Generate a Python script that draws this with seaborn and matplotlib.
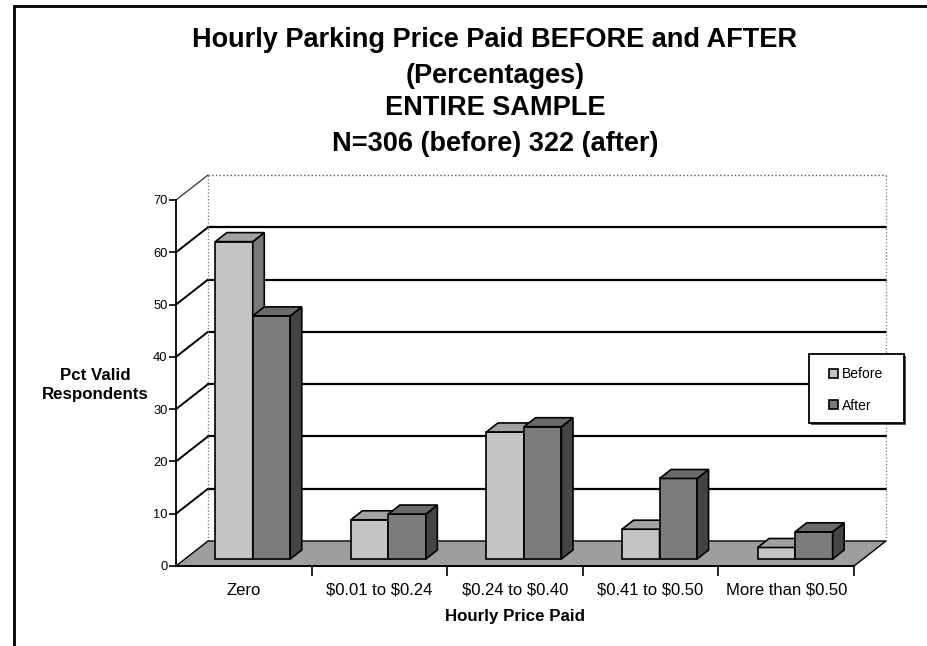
import pandas as pd
import matplotlib
matplotlib.use("Agg")
import matplotlib.pyplot as plt
from matplotlib.patches import Polygon, Rectangle
from matplotlib.lines import Line2D
from matplotlib.transforms import Affine2D
import seaborn as sns

# data
categories = ["Zero", "$0.01 to $0.24", "$0.24 to $0.40", "$0.41 to $0.50", "More than $0.50"]
periods = ["Before", "After"]
before_pct = [60.7, 7.5, 24.3, 5.7, 2.2]
after_pct = [46.5, 8.6, 25.3, 15.4, 5.2]
y_ticks = [0, 10, 20, 30, 40, 50, 60, 70]
title_lines = ["Hourly Parking Price Paid BEFORE and AFTER", "(Percentages)",
               "ENTIRE SAMPLE", "N=306 (before) 322 (after)"]

df = pd.DataFrame({
    "category": categories * 2,
    "period": ["Before"] * len(categories) + ["After"] * len(categories),
    "pct": before_pct + after_pct,
})

sns.set_style("ticks")
plt.rcParams["font.family"] = ["Liberation Sans", "DejaVu Sans"]
plt.rcParams["text.color"] = "black"
plt.rcParams["xtick.color"] = "black"
plt.rcParams["ytick.color"] = "black"
plt.rcParams["xtick.labelcolor"] = "black"
plt.rcParams["ytick.labelcolor"] = "black"

W, H = 928, 646
fig = plt.figure(figsize=(W / 100, H / 100), dpi=100)
# front plane of the fake 3D box, in pixels
px_l, px_r, px_b, px_t = 176, 854, 566, 200
ax = fig.add_axes([px_l / W, 1 - px_b / H, (px_r - px_l) / W, (px_b - px_t) / H])

front = {"Before": "#c4c4c4", "After": "#7c7c7c"}
tops = {"Before": "#a2a2a2", "After": "#6a6a6a"}
sides = {"Before": "#787878", "After": "#444444"}

sns.barplot(data=df, x="category", y="pct", hue="period", hue_order=periods,
            palette=front, width=0.553, edgecolor="black", linewidth=1.2,
            saturation=1, ax=ax)

ax.set_xlim(-0.5, 4.5)
ax.set_ylim(0, 70)
ax.autoscale(False)

# depth of the box in data units
DX = 32 / ((px_r - px_l) / 5)
DY = 25 / ((px_b - px_t) / 70)
z0, z1 = 0.28, 0.64

# floor
floor = Polygon([(-0.5, 0), (4.5, 0), (4.5 + DX, DY), (-0.5 + DX, DY)],
                closed=True, facecolor="#9e9e9e", edgecolor="black", lw=1.0,
                zorder=1, clip_on=False)
ax.add_patch(floor)

# back wall and left side wall grid
for v in y_ticks[1:]:
    c = "#555555" if v == 70 else "black"
    lw = 1.0 if v == 70 else 1.6
    ls = ":" if v == 70 else "-"
    ax.plot([-0.5 + DX, 4.5 + DX], [v + DY, v + DY], color=c, lw=lw, ls=ls,
            zorder=0.5, clip_on=False)
    ax.plot([-0.5, -0.5 + DX], [v, v + DY], color="black" if v < 70 else "#444444",
            lw=1.4 if v < 70 else 1.0, zorder=0.5, clip_on=False)
for xe in [-0.5 + DX, 4.5 + DX]:
    ax.plot([xe, xe], [DY, 70 + DY], color="#777777", lw=0.9, ls=":",
            zorder=0.6, clip_on=False)

# turn flat bars into blocks
ox, oy = z0 * DX, z0 * DY
bdx, bdy = (z1 - z0) * DX, (z1 - z0) * DY
for j, cont in enumerate(ax.containers):
    p = periods[j]
    for bar in cont:
        x, w, h = bar.get_x(), bar.get_width(), bar.get_height()
        zo = 10 + j
        bar.set_transform(Affine2D().translate(ox, oy) + ax.transData)
        bar.set_zorder(zo)
        bar.set_clip_on(False)
        xl, xr, yb, yt = x + ox, x + w + ox, oy, h + oy
        top = Polygon([(xl, yt), (xr, yt), (xr + bdx, yt + bdy), (xl + bdx, yt + bdy)],
                      facecolor=tops[p], edgecolor="black", lw=1.2, zorder=zo,
                      clip_on=False)
        side = Polygon([(xr, yb), (xr, yt), (xr + bdx, yt + bdy), (xr + bdx, yb + bdy)],
                       facecolor=sides[p], edgecolor="black", lw=1.2, zorder=zo,
                       clip_on=False)
        ax.add_patch(side)
        ax.add_patch(top)

# axes styling
for s in ["top", "right"]:
    ax.spines[s].set_visible(False)
for s in ["left", "bottom"]:
    ax.spines[s].set_color("black")
    ax.spines[s].set_linewidth(1.3)
    ax.spines[s].set_zorder(20)
ax.set_facecolor("none")
ax.set_yticks(y_ticks)
ax.tick_params(axis="y", length=5, width=1.2, pad=1, labelsize=9.3)
ax.set_xticks(range(len(categories)))
ax.set_xticklabels([c.replace("$", r"\$") for c in categories])
ax.tick_params(axis="x", which="major", length=0, pad=12, labelsize=12)
ax.set_xticks([0.5, 1.5, 2.5, 3.5, 4.5], minor=True)
ax.tick_params(axis="x", which="minor", length=7, width=1.2)
ax.set_xlabel("")
ax.set_ylabel("")

# legend: entries from seaborn, box drawn separately
handles, labels = ax.get_legend_handles_labels()
leg = ax.legend(handles, labels, loc="center left",
                bbox_to_anchor=(829 / W, 1 - 390 / H), bbox_transform=fig.transFigure,
                frameon=False, fontsize=10,
                handlelength=0.65, handleheight=0.65, handletextpad=0.3,
                labelspacing=1.25, borderpad=0, borderaxespad=0)
leg.set_zorder(30)
ax.add_patch(Rectangle((811 / W, 1 - 425 / H), 95 / W, 69 / H,
                       transform=fig.transFigure, facecolor="#555555",
                       edgecolor="none", zorder=28, clip_on=False))
ax.add_patch(Rectangle((809 / W, 1 - 423 / H), 95 / W, 69 / H,
                       transform=fig.transFigure, facecolor="white",
                       edgecolor="black", lw=1.3, zorder=29, clip_on=False))

# titles and labels
for i, line in enumerate(title_lines):
    fig.text(495 / W, 1 - [40, 76, 108, 144][i] / H, line, ha="center", va="center",
             fontsize=19.5, fontweight="bold")
fig.text(95 / W, 1 - 385 / H, "Pct Valid\nRespondents", ha="center", va="center",
         fontsize=12.2, fontweight="bold", linespacing=1.3)
fig.text(515 / W, 1 - 617 / H, "Hourly Price Paid", ha="center", va="center",
         fontsize=12.2, fontweight="bold")

# outer chart border (left and top edges visible)
fig.add_artist(Line2D([14 / W, 14 / W], [0, 1 - 6 / H], color="black", lw=2))
fig.add_artist(Line2D([14 / W, 1], [1 - 6 / H, 1 - 6 / H], color="black", lw=2))

fig.savefig("out.png", dpi=100)
